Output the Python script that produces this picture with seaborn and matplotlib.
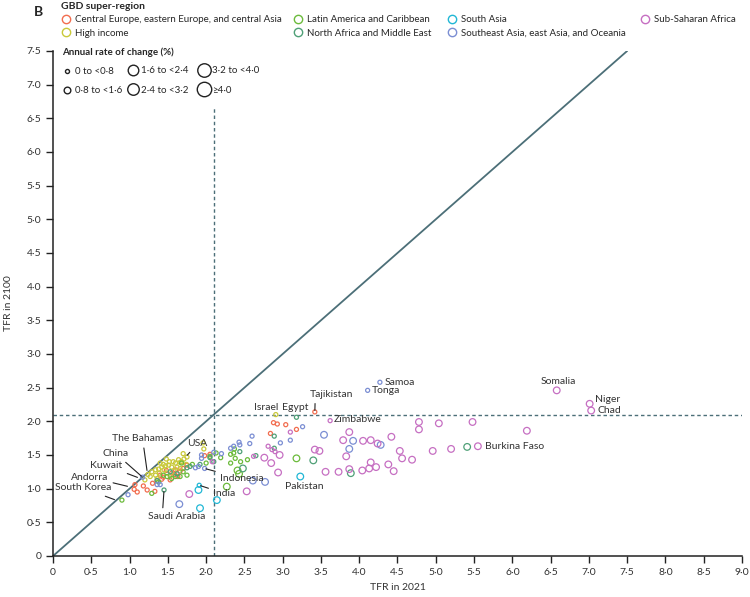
import numpy as np
import pandas as pd
import matplotlib
matplotlib.use("Agg")
import matplotlib.pyplot as plt
from matplotlib.lines import Line2D
from matplotlib.ticker import MultipleLocator, FuncFormatter
import seaborn as sns

# -------------------- DATA --------------------
regions = [
    "Central Europe, eastern Europe, and central Asia",
    "High income",
    "Latin America and Caribbean",
    "North Africa and Middle East",
    "South Asia",
    "Southeast Asia, east Asia, and Oceania",
    "Sub-Saharan Africa",
]
region_colors = ["#f26d4f", "#c9c93a", "#6cbb3c", "#4fa077", "#21b7d5", "#7b8ed3", "#c66fc2"]

ceeca_2021 = [1.06, 1.10, 1.07, 1.18, 1.23, 1.33, 1.42, 1.44, 1.55, 1.60, 1.66, 1.40, 1.53, 1.30,
              1.48, 1.59, 1.63, 1.36, 1.70, 2.05, 2.84, 2.88, 2.93, 3.04, 3.18, 3.42, 1.75, 1.98]
ceeca_2100 = [0.99, 0.95, 1.06, 1.04, 0.98, 0.96, 1.14, 1.17, 1.23, 1.28, 1.26, 1.20, 1.13, 1.08,
              1.27, 1.21, 1.18, 1.12, 1.30, 1.51, 1.82, 1.98, 1.96, 1.95, 1.88, 2.14, 1.35, 1.49]

hi_2021 = [1.20, 1.27, 1.34, 1.38, 1.42, 1.47, 1.51, 1.55, 1.60, 1.64, 1.66, 1.71, 1.75, 1.49,
           1.53, 1.29, 1.34, 1.39, 1.45, 1.57, 1.62, 1.68, 1.36, 1.44, 1.52, 1.58, 1.70, 1.31,
           1.24, 1.96, 1.97, 1.48, 1.40, 1.66, 1.74, 2.91, 0.82, 0.99]
hi_2100 = [1.13, 1.18, 1.20, 1.29, 1.32, 1.34, 1.35, 1.32, 1.38, 1.43, 1.39, 1.44, 1.47, 1.23,
           1.19, 1.25, 1.28, 1.23, 1.28, 1.40, 1.32, 1.40, 1.15, 1.36, 1.40, 1.26, 1.52, 1.33,
           1.21, 1.68, 1.59, 1.44, 1.38, 1.30, 1.36, 2.10, 0.83, 1.03]

lac_2021 = [0.90, 1.23, 1.29, 1.44, 1.49, 1.60, 1.66, 1.75, 1.68, 1.70, 1.38, 1.55, 2.13, 2.19,
            2.32, 2.36, 2.37, 2.38, 2.32, 2.54, 2.45, 2.41, 2.43, 2.27, 3.18, 2.05, 2.00, 1.82]
lac_2100 = [0.83, 1.25, 0.93, 1.20, 1.18, 1.18, 1.18, 1.20, 1.38, 1.25, 1.10, 1.15, 1.53, 1.46,
            1.51, 1.53, 1.59, 1.45, 1.38, 1.43, 1.40, 1.27, 1.22, 1.03, 1.45, 1.48, 1.38, 1.36]

name_2021 = [1.12, 1.45, 3.18, 2.89, 2.89, 2.65, 2.48, 3.40, 3.89, 5.41, 1.75, 1.79, 1.53, 1.36,
             2.10, 2.05, 1.92, 2.44, 1.62]
name_2100 = [1.16, 0.98, 2.06, 1.78, 1.60, 1.49, 1.30, 1.42, 1.23, 1.62, 1.31, 1.33, 1.25, 1.12,
             1.40, 1.46, 1.36, 1.55, 1.22]

sa_2021 = [3.23, 1.91, 1.90, 2.14, 1.92]
sa_2100 = [1.18, 1.05, 0.98, 0.83, 0.71]

seao_2021 = [1.17, 4.27, 4.11, 0.98, 1.36, 1.40, 1.86, 1.90, 1.98, 1.65, 2.10, 2.32, 2.36, 2.43,
             2.44, 2.57, 2.60, 2.61, 2.77, 2.97, 3.10, 3.26, 3.54, 3.92, 4.28, 3.87, 1.94, 1.94, 2.20]
seao_2100 = [1.17, 2.58, 2.46, 0.91, 1.06, 1.06, 1.31, 1.33, 1.30, 0.77, 1.54, 1.60, 1.63, 1.69,
             1.65, 1.67, 1.78, 1.12, 1.10, 1.68, 1.72, 1.92, 1.80, 1.71, 1.65, 1.59, 1.50, 1.45, 1.52]

ssa_2021 = [1.78, 2.53, 2.08, 2.62, 2.81, 2.86, 2.90, 3.10, 3.62, 2.76, 2.85, 2.96, 2.94, 3.42,
            3.48, 3.56, 3.73, 3.79, 3.83, 3.87, 3.87, 4.04, 4.05, 4.13, 4.15, 4.15, 4.22, 4.24,
            4.38, 4.42, 4.45, 4.53, 4.56, 4.69, 4.78, 4.78, 4.96, 5.04, 5.20, 5.48, 5.55, 6.19,
            6.58, 7.01, 7.03]
ssa_2100 = [0.92, 0.96, 1.40, 1.48, 1.63, 1.58, 1.55, 1.84, 2.01, 1.46, 1.38, 1.50, 1.24, 1.58,
            1.56, 1.25, 1.25, 1.72, 1.48, 1.84, 1.29, 1.27, 1.71, 1.30, 1.39, 1.72, 1.32, 1.67,
            1.36, 1.77, 1.26, 1.56, 1.45, 1.43, 1.99, 1.88, 1.56, 1.97, 1.59, 1.99, 1.63, 1.86,
            2.46, 2.26, 2.16]

rate_bins = [0, 0.8, 1.6, 2.4, 3.2, 4.0, np.inf]
rate_labels = ["0 to <0·8", "0·8 to <1·6", "1·6 to <2·4", "2·4 to <3·2", "3·2 to <4·0", "≥4·0"]

# (label, point x, point y, text x, text y, ha, relpos)
labels = [
    ("The Bahamas", 1.23, 1.25, 1.17, 1.74, "center", (0.5, 0.5)),
    ("China", 1.17, 1.17, 0.82, 1.52, "center", (0.5, 0.5)),
    ("Kuwait", 1.12, 1.16, 0.70, 1.34, "center", (0.5, 0.5)),
    ("Andorra", 0.99, 1.03, 0.48, 1.17, "center", (0.5, 0.5)),
    ("South Korea", 0.82, 0.83, 0.39, 1.01, "center", (0.5, 0.5)),
    ("Saudi Arabia", 1.45, 0.98, 1.61, 0.58, "center", (0.26, 1.0)),
    ("USA", 1.74, 1.48, 1.89, 1.67, "center", (0.5, 0.5)),
    ("Indonesia", 1.98, 1.30, 2.18, 1.15, "left", (0.5, 0.5)),
    ("India", 1.91, 1.05, 2.09, 0.93, "left", (0.5, 0.5)),
    ("Tajikistan", 3.42, 2.14, 3.64, 2.40, "center", (0.12, 0.0)),
]
plain_labels = [
    ("Pakistan", 3.28, 1.03, "center"),
    ("Israel", 2.78, 2.20, "center"),
    ("Egypt", 3.17, 2.20, "center"),
    ("Zimbabwe", 3.67, 2.02, "left"),
    ("Samoa", 4.33, 2.58, "left"),
    ("Tonga", 4.16, 2.46, "left"),
    ("Somalia", 6.60, 2.59, "center"),
    ("Niger", 7.08, 2.33, "left"),
    ("Chad", 7.11, 2.16, "left"),
    ("Burkina Faso", 5.64, 1.62, "left"),
]

replacement = 2.1

# -------------------- BUILD FRAME --------------------
parts = []
for reg, x, y in zip(regions,
                     [ceeca_2021, hi_2021, lac_2021, name_2021, sa_2021, seao_2021, ssa_2021],
                     [ceeca_2100, hi_2100, lac_2100, name_2100, sa_2100, seao_2100, ssa_2100]):
    parts.append(pd.DataFrame({"tfr2021": x, "tfr2100": y, "region": reg}))
df = pd.concat(parts, ignore_index=True)
df["rate"] = -np.log(df["tfr2100"] / df["tfr2021"]) / (2100 - 2021) * 100
df["rate_cat"] = pd.cut(df["rate"], bins=rate_bins, right=False, labels=rate_labels)

# -------------------- PLOT --------------------
sns.set_style("ticks")
plt.rcParams["font.family"] = ["Lato", "DejaVu Sans"]

marker_areas = [8.5, 23, 58, 69, 94, 108]
line_col = "#4c6f78"
txt_col = "#333333"

fig = plt.figure(figsize=(7.5, 5.97), dpi=100)
ax = fig.add_axes([0.0707, 0.0687, 0.9186, 0.8459])

ax.axline((0, 0), slope=1, color=line_col, lw=1.3, zorder=1)
ax.axhline(replacement, color=line_col, lw=1.0, ls=(0, (2.5, 2)), zorder=1)
ax.axvline(replacement, ymax=6.65 / 7.5, color=line_col, lw=1.0, ls=(0, (2.5, 2)), zorder=1)

sns.scatterplot(data=df, x="tfr2021", y="tfr2100", hue="region", hue_order=regions,
                palette=region_colors, size="rate_cat", size_order=rate_labels,
                sizes=dict(zip(rate_labels, marker_areas)), legend=False,
                linewidth=0.9, ax=ax, zorder=3)
coll = ax.collections[-1]
coll.set_edgecolors(coll.get_facecolors())
coll.set_facecolors("none")

for name, px, py, tx, ty, ha, rp in labels:
    ax.annotate(name, xy=(px, py), xytext=(tx, ty), ha=ha, va="center",
                fontsize=7.5, color=txt_col,
                arrowprops=dict(arrowstyle="-", color="#222222", lw=0.8,
                                shrinkA=1, shrinkB=1, relpos=rp))
for name, tx, ty, ha in plain_labels:
    ax.text(tx, ty, name, ha=ha, va="center", fontsize=7.5, color=txt_col)

ax.set_xlim(0, 9.0)
ax.set_ylim(0, 7.5)
ax.xaxis.set_major_locator(MultipleLocator(0.5))
ax.yaxis.set_major_locator(MultipleLocator(0.5))
fmt = FuncFormatter(lambda v, p: "0" if abs(v) < 1e-9 else f"{v:.1f}".replace(".", "·"))
ax.xaxis.set_major_formatter(fmt)
ax.yaxis.set_major_formatter(fmt)
ax.tick_params(length=5, width=1, color="#222222", labelsize=7.5, labelcolor=txt_col)
sns.despine(ax=ax)
for s in ["left", "bottom"]:
    ax.spines[s].set_color("#222222")
    ax.spines[s].set_linewidth(1.1)
ax.set_xlabel("TFR in 2021", fontsize=7.5, color=txt_col)
ax.set_ylabel("TFR in 2100", fontsize=7.5, color=txt_col)
ax.xaxis.set_label_coords(0.5, -0.054)
ax.yaxis.set_label_coords(-0.058, 0.5)

# -------------------- LEGENDS --------------------
# one legend per column so the columns sit where the reference puts them
W = 750
reg_handles = [Line2D([], [], marker="o", ls="", mfc="white", mec=c, mew=1.0, ms=6)
               for c in region_colors]
reg_col_x = [61, 293, 447, 640]
for i, x0 in enumerate(reg_col_x):
    fig.legend(reg_handles[2 * i:2 * i + 2], regions[2 * i:2 * i + 2], loc="upper left",
               bbox_to_anchor=(x0 / W, 0.997), ncol=1,
               title="GBD super-region" if i == 0 else " ", frameon=False,
               alignment="left", fontsize=7, handlelength=1.1, handletextpad=0.35,
               labelspacing=0.45, borderpad=0, borderaxespad=0,
               title_fontproperties={"weight": "bold", "size": 7.5})

size_handles = [Line2D([], [], marker="o", ls="", mfc="white", mec="#222222", mew=1.0,
                       ms=np.sqrt(a)) for a in marker_areas]
size_col_x = [62, 128, 199]
for i, x0 in enumerate(size_col_x):
    fig.legend(size_handles[2 * i:2 * i + 2], rate_labels[2 * i:2 * i + 2], loc="upper left",
               bbox_to_anchor=(x0 / W, 0.921), ncol=1,
               title="Annual rate of change (%)" if i == 0 else " ", frameon=False,
               alignment="left", fontsize=7, handlelength=1.0, handletextpad=0.35,
               labelspacing=1.05, borderpad=0, borderaxespad=0,
               title_fontproperties={"weight": "bold", "size": 7})

fig.text(0.045, 0.99, "B", fontsize=10, fontweight="bold", va="top", ha="left")

fig.savefig("out.png", dpi=100)
